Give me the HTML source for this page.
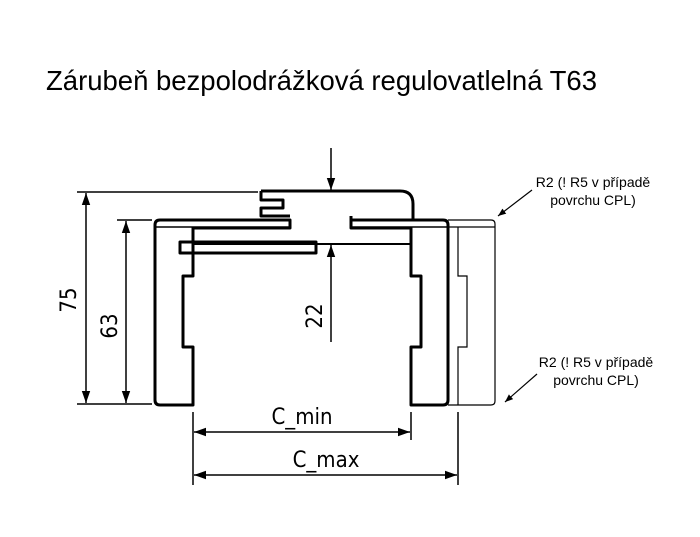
<!DOCTYPE html>
<html><head><meta charset="utf-8"><style>
html,body{margin:0;padding:0;background:#fff;width:700px;height:537px;overflow:hidden}
</style></head><body>
<svg width="700" height="537" viewBox="0 0 700 537" xmlns="http://www.w3.org/2000/svg">
<defs>
<marker id="a" viewBox="0 0 10 10" refX="10" refY="5" markerWidth="12" markerHeight="12" markerUnits="userSpaceOnUse" orient="auto-start-reverse"><path d="M0,1.5 L10,5 L0,8.5 z" fill="#000"/></marker>
<marker id="s" viewBox="0 0 10 10" refX="10" refY="5" markerWidth="8" markerHeight="8" markerUnits="userSpaceOnUse" orient="auto"><path d="M0,1 L10,5 L0,9 z" fill="#000"/></marker>
</defs>
<text x="46" y="90" font-family="'Liberation Sans',sans-serif" font-size="27.5" fill="#000" textLength="551" lengthAdjust="spacingAndGlyphs">Zárubeň bezpolodrážková regulovatlelná T63</text>
<g fill="none" stroke="#000" stroke-width="3" stroke-linejoin="round">
<path d="M160,220 L290,220 L290,228 L193,228 L193,276 L183,276 L183,347 L193,347 L193,405 L160,405 Q155,405 155,400 L155,225 Q155,220 160,220 Z"/>
<line x1="155" y1="227" x2="290" y2="227" stroke-width="1.5"/>
<rect x="180" y="242" width="136" height="11"/>
<path d="M261,191 L400,191 Q413,191 413,204 L413,220"/>
<path d="M261,191 L261,200 L283,200 L283,208 L261,208 L261,216 L290,216"/>
<line x1="193" y1="244" x2="411" y2="244" stroke-width="2"/>
<path d="M351,216 L351,228 L411,228 L411,276 L421,276 L421,347 L411,347 L411,405 L443,405 Q448,405 448,400 L448,225 Q448,220 443,220 L351,220"/>
<line x1="351" y1="227" x2="448" y2="227" stroke-width="1.5"/>
</g>
<g fill="none" stroke="#000" stroke-width="1.2">
<path d="M448,220 L491,220 Q495,220 495,224 L495,401 Q495,405 491,405 L448,405"/>
<line x1="448" y1="227" x2="495" y2="227"/>
<path d="M458,227 L458,276 L467,276 L467,347 L458,347 L458,405"/>
</g>
<g stroke="#000" stroke-width="1.5" fill="none">
<line x1="77" y1="192" x2="258" y2="192"/>
<line x1="117" y1="220" x2="152" y2="220"/>
<line x1="77" y1="404" x2="152" y2="404"/>
<line x1="86" y1="193" x2="86" y2="403" marker-start="url(#a)" marker-end="url(#a)"/>
<line x1="126" y1="221" x2="126" y2="403" marker-start="url(#a)" marker-end="url(#a)"/>
<line x1="331" y1="148" x2="331" y2="190" marker-end="url(#a)"/>
<line x1="331" y1="342" x2="331" y2="245" marker-end="url(#a)"/>
<line x1="193" y1="412" x2="193" y2="485"/>
<line x1="411" y1="412" x2="411" y2="440"/>
<line x1="458" y1="412" x2="458" y2="485"/>
<line x1="194" y1="432" x2="410" y2="432" marker-start="url(#a)" marker-end="url(#a)"/>
<line x1="194" y1="475" x2="457" y2="475" marker-start="url(#a)" marker-end="url(#a)"/>
<line x1="532" y1="190" x2="498" y2="216" stroke-width="1.2" marker-end="url(#s)"/>
<line x1="537" y1="374" x2="505" y2="402" stroke-width="1.2" marker-end="url(#s)"/>
</g>
<g font-family="'DejaVu Sans Condensed','Liberation Sans',sans-serif" font-size="22" fill="#000">
<text transform="translate(76,300) rotate(-90)" text-anchor="middle">75</text>
<text transform="translate(117,326) rotate(-90)" text-anchor="middle">63</text>
<text transform="translate(322,316) rotate(-90)" text-anchor="middle">22</text>
<text x="302" y="424" text-anchor="middle">C_min</text>
<text x="326" y="467" text-anchor="middle">C_max</text>
</g>
<g font-family="'Liberation Sans',sans-serif" font-size="14" fill="#000" text-anchor="middle">
<text x="593" y="187">R2 (! R5 v případě</text>
<text x="593" y="205">povrchu CPL)</text>
<text x="596" y="367">R2 (! R5 v případě</text>
<text x="596" y="385">povrchu CPL)</text>
</g>
</svg>
</body></html>
